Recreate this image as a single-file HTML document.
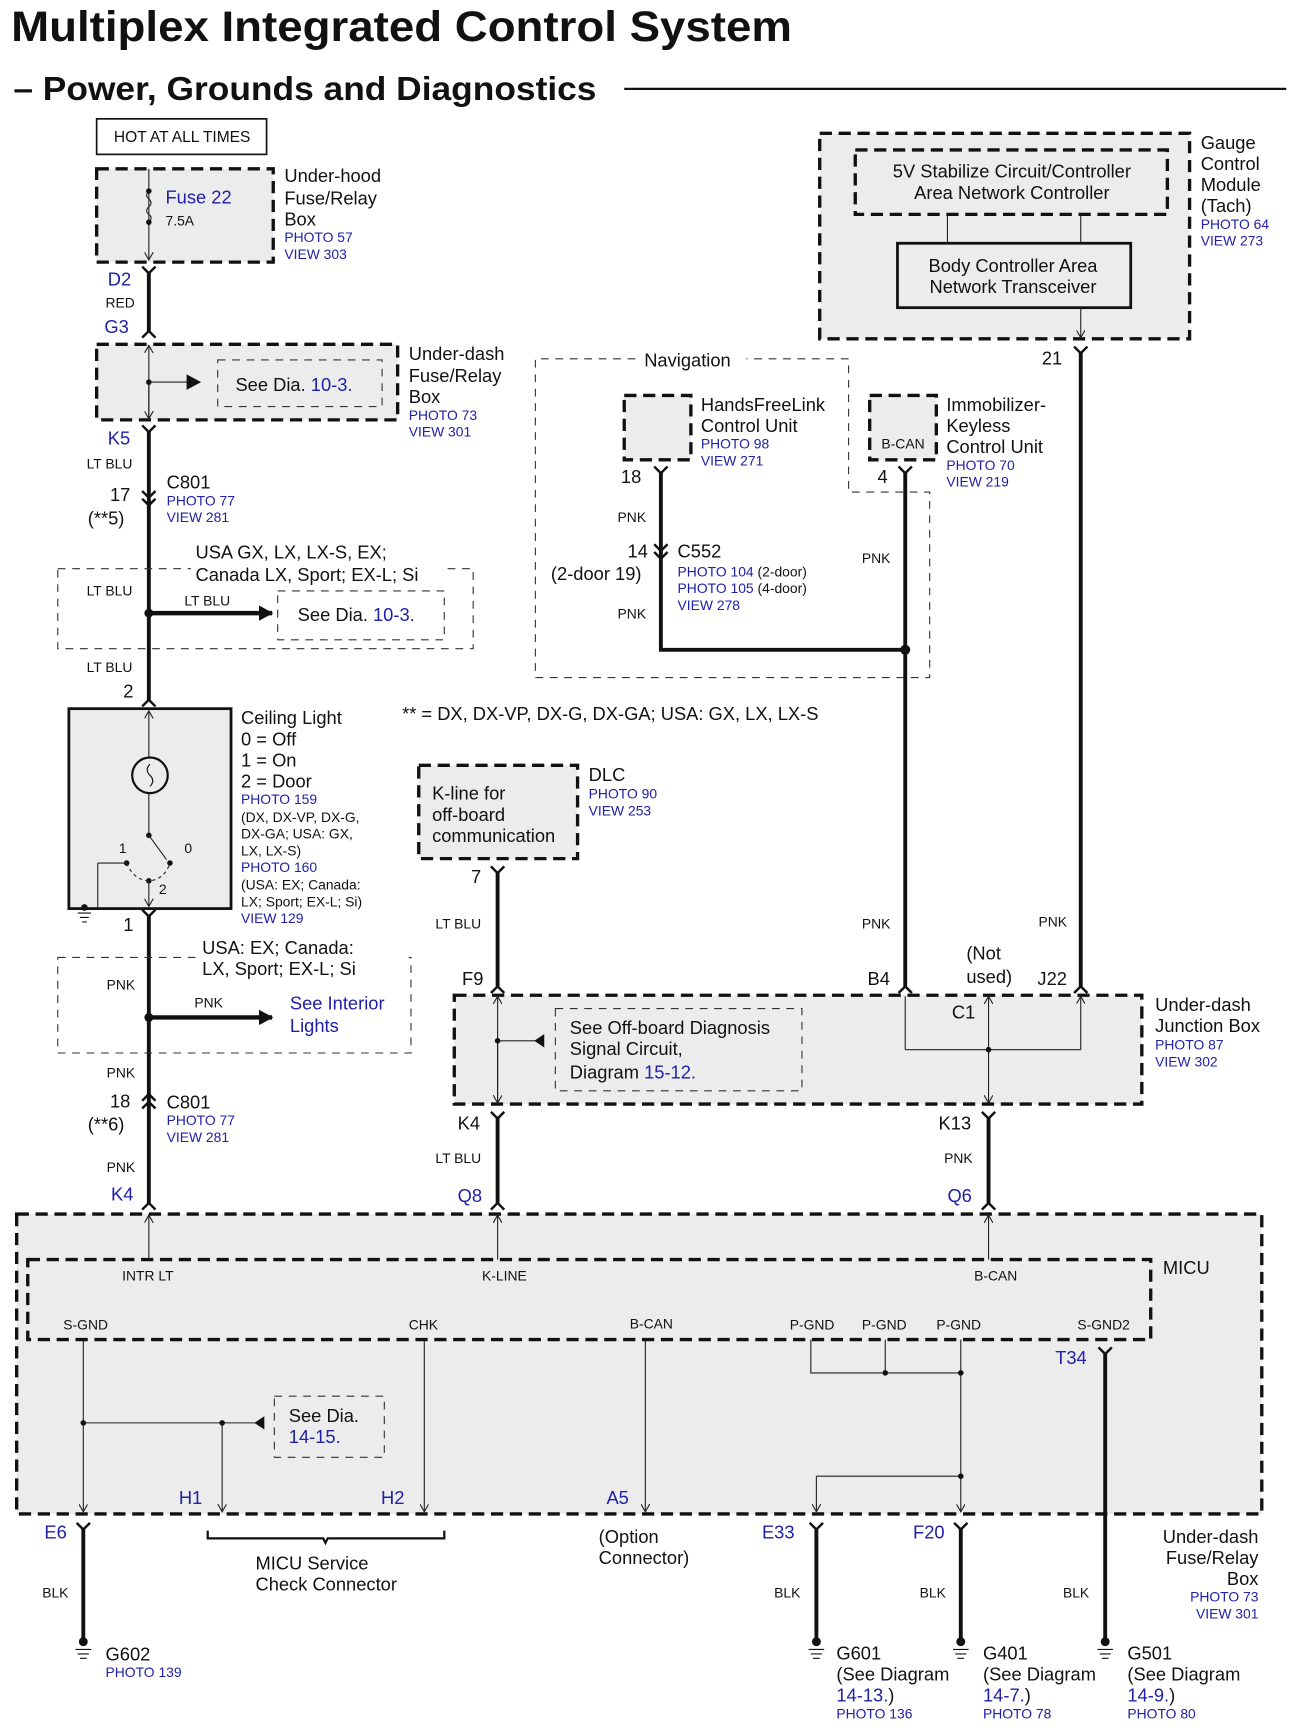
<!DOCTYPE html>
<html><head><meta charset="utf-8"><style>
html,body{margin:0;padding:0;background:#fff;}
svg{display:block;}
text{font-family:"Liberation Sans",sans-serif;fill:#111;}
.b{fill:#2020a8;}
.s12{font-size:12.5px;}
.s14{font-size:14px;}
.s17{font-size:16.5px;}
.thin{stroke:#222;stroke-width:1;fill:none;}
.wire{stroke:#111;stroke-width:3.5;fill:none;}
.dT{stroke:#111;stroke-width:3;stroke-dasharray:11 6;fill:#ececec;}
.dt{stroke:#333;stroke-width:1;stroke-dasharray:7 6;fill:none;}
.con{stroke:#111;stroke-width:2.2;fill:none;}
</style></head><body>
<svg width="1294" height="1735" viewBox="0 0 1165 1562" preserveAspectRatio="none" xmlns="http://www.w3.org/2000/svg">
<defs>
<marker id="ah" markerWidth="8" markerHeight="8" refX="7" refY="4" orient="auto" markerUnits="userSpaceOnUse"><path d="M0,0 L7,4 L0,8" fill="none" stroke="#222" stroke-width="1"/></marker>
<marker id="ab" markerWidth="14" markerHeight="14" refX="12" refY="7" orient="auto" markerUnits="userSpaceOnUse"><path d="M0,0 L13,7 L0,14 Z" fill="#111"/></marker>
</defs>
<text x="10" y="37" font-size="38" font-weight="bold" textLength="703" lengthAdjust="spacingAndGlyphs">Multiplex Integrated Control System</text>
<text x="12" y="90" font-size="30" font-weight="bold" textLength="525" lengthAdjust="spacingAndGlyphs">– Power, Grounds and Diagnostics</text>
<line x1="562" y1="80" x2="1158" y2="80" stroke="#111" stroke-width="2"/>

<rect x="87" y="107" width="153" height="32" fill="#fff" stroke="#111" stroke-width="1.5"/>
<text x="164" y="128" class="s14" text-anchor="middle">HOT AT ALL TIMES</text>

<rect x="87" y="152" width="159" height="84" class="dT"/>
<line x1="134" y1="152" x2="134" y2="234" class="thin" marker-end="url(#ah)"/>
<path d="M134,172 q-4,4 0,7 q4,4 0,7 q-4,4 0,7 q4,3 0,7" fill="none" stroke="#222" stroke-width="1" />
<circle cx="134" cy="172" r="2.5" fill="#111"/><circle cx="134" cy="200" r="2.5" fill="#111"/>
<text x="149" y="183" class="s17 b">Fuse 22</text>
<text x="149" y="203" class="s12">7.5A</text>
<text x="256" y="164" class="s17">Under-hood</text>
<text x="256" y="184" class="s17">Fuse/Relay</text>
<text x="256" y="203" class="s17">Box</text>
<text x="256" y="218" class="s12 b">PHOTO 57</text>
<text x="256" y="233" class="s12 b">VIEW 303</text>

<path d="M128,240 L134,246 L140,240" class="con"/>
<line x1="134" y1="245" x2="134" y2="298" class="wire"/>
<path d="M128,304 L134,298 L140,304" class="con"/>
<text x="97" y="257" class="s17 b">D2</text>
<text x="95" y="277" class="s12">RED</text>
<text x="94" y="300" class="s17 b">G3</text>

<rect x="87" y="310" width="271" height="68" class="dT"/>
<line x1="134" y1="378" x2="134" y2="311" class="thin" marker-end="url(#ah)"/>
<line x1="134" y1="344" x2="134" y2="377" class="thin" marker-end="url(#ah)"/>
<circle cx="134" cy="344" r="2.5" fill="#111"/>
<line x1="134" y1="344" x2="180" y2="344" class="thin" marker-end="url(#ab)" stroke-width="1.2"/>
<rect x="196" y="324" width="148" height="42" class="dt" stroke-dasharray="16 8"/>
<text x="212" y="352" class="s17">See Dia. <tspan class="b">10-3.</tspan></text>
<text x="368" y="324" class="s17">Under-dash</text>
<text x="368" y="344" class="s17">Fuse/Relay</text>
<text x="368" y="363" class="s17">Box</text>
<text x="368" y="378" class="s12 b">PHOTO 73</text>
<text x="368" y="393" class="s12 b">VIEW 301</text>

<path d="M128,383 L134,389 L140,383" class="con"/>
<line x1="134" y1="388" x2="134" y2="630" class="wire"/>
<text x="97" y="400" class="s17 b">K5</text>
<text x="78" y="422" class="s12">LT BLU</text>
<path d="M128,442 L134,448 L140,442 M128,449 L134,455 L140,449" class="con"/>
<text x="99" y="451" class="s17">17</text>
<text x="79" y="472" class="s17">(**5)</text>
<text x="150" y="440" class="s17">C801</text>
<text x="150" y="455" class="s12 b">PHOTO 77</text>
<text x="150" y="470" class="s12 b">VIEW 281</text>

<rect x="52" y="512" width="374" height="72" class="dt" stroke-dasharray="6 6"/>
<rect x="172" y="490" width="230" height="40" fill="#fff"/>
<text x="176" y="503" class="s17">USA GX, LX, LX-S, EX;</text>
<text x="176" y="523" class="s17">Canada LX, Sport; EX-L; Si</text>
<text x="78" y="536" class="s12">LT BLU</text>
<circle cx="134" cy="552" r="4" fill="#111"/>
<line x1="134" y1="552" x2="245" y2="552" stroke="#111" stroke-width="4" marker-end="url(#ab)"/>
<text x="166" y="545" class="s12">LT BLU</text>
<rect x="250" y="532" width="150" height="44" class="dt" stroke-dasharray="14 8"/>
<text x="268" y="559" class="s17">See Dia. <tspan class="b">10-3.</tspan></text>
<text x="78" y="605" class="s12">LT BLU</text>
<text x="111" y="628" class="s17">2</text>
<path d="M128,636 L134,630 L140,636" class="con"/>

<rect x="62" y="638" width="146" height="180" fill="#ececec" stroke="#111" stroke-width="2.5"/>
<line x1="134" y1="682" x2="134" y2="640" class="thin" marker-end="url(#ah)"/>
<line x1="134" y1="714" x2="134" y2="752" class="thin"/>
<circle cx="135" cy="698" r="16" fill="none" stroke="#111" stroke-width="2"/>
<path d="M135,688 q-5,5 0,10 q5,5 0,10" fill="none" stroke="#111" stroke-width="1"/>
<circle cx="134" cy="752" r="2.5" fill="#111"/>
<line x1="134" y1="752" x2="150" y2="774" class="thin"/>
<circle cx="114" cy="777" r="2.5" fill="#111"/><circle cx="153" cy="777" r="2.5" fill="#111"/>
<circle cx="134" cy="793" r="2.5" fill="#111"/>
<path d="M114,777 Q120,792 134,793 Q148,792 153,777" fill="none" stroke="#222" stroke-width="1" stroke-dasharray="3 3"/>
<line x1="134" y1="793" x2="134" y2="816" class="thin" marker-end="url(#ah)"/>
<line x1="114" y1="777" x2="88" y2="777" class="thin"/><line x1="88" y1="777" x2="88" y2="818" class="thin"/>
<text x="107" y="768" class="s12">1</text><text x="166" y="768" class="s12">0</text><text x="143" y="805" class="s12">2</text>
<circle cx="76" cy="817" r="3" fill="#111"/>
<path d="M70,822 h12 M72,826 h8 M74,830 h4" stroke="#111" stroke-width="1"/>
<text x="217" y="652" class="s17">Ceiling Light</text>
<text x="217" y="671" class="s17">0 = Off</text>
<text x="217" y="690" class="s17">1 = On</text>
<text x="217" y="709" class="s17">2 = Door</text>
<text x="217" y="724" class="s12 b">PHOTO 159</text>
<text x="217" y="740" class="s12">(DX, DX-VP, DX-G,</text>
<text x="217" y="755" class="s12">DX-GA; USA: GX,</text>
<text x="217" y="770" class="s12">LX, LX-S)</text>
<text x="217" y="785" class="s12 b">PHOTO 160</text>
<text x="217" y="801" class="s12">(USA: EX; Canada:</text>
<text x="217" y="816" class="s12">LX; Sport; EX-L; Si)</text>
<text x="217" y="831" class="s12 b">VIEW 129</text>
<path d="M128,819 L134,825 L140,819" class="con"/>
<line x1="134" y1="824" x2="134" y2="1083" class="wire"/>
<text x="111" y="838" class="s17">1</text>

<rect x="52" y="862" width="318" height="86" class="dt" stroke-dasharray="6 6"/>
<rect x="178" y="846" width="190" height="38" fill="#fff"/>
<text x="182" y="859" class="s17">USA: EX; Canada:</text>
<text x="182" y="878" class="s17">LX, Sport; EX-L; Si</text>
<text x="96" y="891" class="s12">PNK</text>
<circle cx="134" cy="916" r="4" fill="#111"/>
<line x1="134" y1="916" x2="245" y2="916" stroke="#111" stroke-width="4" marker-end="url(#ab)"/>
<text x="175" y="907" class="s12">PNK</text>
<text x="261" y="909" class="s17 b">See Interior</text>
<text x="261" y="929" class="s17 b">Lights</text>
<text x="96" y="970" class="s12">PNK</text>
<path d="M128,991 L134,985 L140,991 M128,998 L134,992 L140,998" class="con"/>
<text x="99" y="997" class="s17">18</text>
<text x="79" y="1018" class="s17">(**6)</text>
<text x="150" y="998" class="s17">C801</text>
<text x="150" y="1013" class="s12 b">PHOTO 77</text>
<text x="150" y="1028" class="s12 b">VIEW 281</text>
<text x="96" y="1055" class="s12">PNK</text>
<text x="100" y="1081" class="s17 b">K4</text>
<path d="M128,1089 L134,1083 L140,1089" class="con"/>

<rect x="738" y="120" width="333" height="185" class="dT"/>
<rect x="770" y="135" width="281" height="58" class="dT" fill="none"/>
<text x="911" y="160" class="s17" text-anchor="middle">5V Stabilize Circuit/Controller</text>
<text x="911" y="179" class="s17" text-anchor="middle">Area Network Controller</text>
<line x1="853" y1="193" x2="853" y2="219" class="thin"/>
<line x1="973" y1="193" x2="973" y2="219" class="thin"/>
<rect x="808" y="219" width="210" height="58" fill="#ececec" stroke="#111" stroke-width="2.5"/>
<text x="912" y="245" class="s17" text-anchor="middle">Body Controller Area</text>
<text x="912" y="264" class="s17" text-anchor="middle">Network Transceiver</text>
<line x1="973" y1="277" x2="973" y2="304" class="thin" marker-end="url(#ah)"/>
<text x="1081" y="134" class="s17">Gauge</text>
<text x="1081" y="153" class="s17">Control</text>
<text x="1081" y="172" class="s17">Module</text>
<text x="1081" y="191" class="s17">(Tach)</text>
<text x="1081" y="206" class="s12 b">PHOTO 64</text>
<text x="1081" y="221" class="s12 b">VIEW 273</text>
<text x="938" y="328" class="s17">21</text>
<path d="M967,312 L973,318 L979,312" class="con"/>
<line x1="973" y1="317" x2="973" y2="888" class="wire"/>
<text x="935" y="834" class="s12">PNK</text>
<text x="934" y="887" class="s17">J22</text>
<path d="M967,894 L973,888 L979,894" class="con"/>

<path d="M572,323 H482 V610 H837 V443 H764 V323 H672" class="dt" stroke-dasharray="6 6"/>
<text x="580" y="330" class="s17">Navigation</text>
<rect x="562" y="356" width="60" height="58" class="dT"/>
<text x="631" y="370" class="s17">HandsFreeLink</text>
<text x="631" y="389" class="s17">Control Unit</text>
<text x="631" y="404" class="s12 b">PHOTO 98</text>
<text x="631" y="419" class="s12 b">VIEW 271</text>
<text x="559" y="435" class="s17">18</text>
<path d="M589,420 L595,426 L601,420" class="con"/>
<path d="M595,425 V585 H815" class="wire"/>
<text x="556" y="470" class="s12">PNK</text>
<path d="M589,490 L595,496 L601,490 M589,497 L595,503 L601,497" class="con"/>
<text x="565" y="502" class="s17">14</text>
<text x="496" y="522" class="s17">(2-door 19)</text>
<text x="610" y="502" class="s17">C552</text>
<text x="610" y="519" class="s12"><tspan class="b">PHOTO 104</tspan> (2-door)</text>
<text x="610" y="534" class="s12"><tspan class="b">PHOTO 105</tspan> (4-door)</text>
<text x="610" y="549" class="s12 b">VIEW 278</text>
<text x="556" y="557" class="s12">PNK</text>
<rect x="783" y="356" width="60" height="58" class="dT"/>
<text x="813" y="404" class="s12" text-anchor="middle">B-CAN</text>
<text x="852" y="370" class="s17">Immobilizer-</text>
<text x="852" y="389" class="s17">Keyless</text>
<text x="852" y="408" class="s17">Control Unit</text>
<text x="852" y="423" class="s12 b">PHOTO 70</text>
<text x="852" y="438" class="s12 b">VIEW 219</text>
<text x="790" y="435" class="s17">4</text>
<path d="M809,420 L815,426 L821,420" class="con"/>
<line x1="815" y1="425" x2="815" y2="888" class="wire"/>
<circle cx="815" cy="585" r="4.5" fill="#111"/>
<text x="776" y="507" class="s12">PNK</text>
<text x="776" y="836" class="s12">PNK</text>
<text x="781" y="887" class="s17">B4</text>
<path d="M809,894 L815,888 L821,894" class="con"/>

<text x="362" y="648" class="s17">** = DX, DX-VP, DX-G, DX-GA; USA: GX, LX, LX-S</text>

<rect x="377" y="689" width="143" height="84" class="dT"/>
<text x="389" y="720" class="s17">K-line for</text>
<text x="389" y="739" class="s17">off-board</text>
<text x="389" y="758" class="s17">communication</text>
<text x="530" y="703" class="s17">DLC</text>
<text x="530" y="719" class="s12 b">PHOTO 90</text>
<text x="530" y="734" class="s12 b">VIEW 253</text>
<text x="424" y="795" class="s17">7</text>
<path d="M442,780 L448,786 L454,780" class="con"/>
<line x1="448" y1="785" x2="448" y2="888" class="wire"/>
<text x="392" y="836" class="s12">LT BLU</text>
<text x="416" y="887" class="s17">F9</text>
<path d="M442,894 L448,888 L454,894" class="con"/>

<rect x="409" y="896" width="619" height="98" class="dT"/>
<line x1="448" y1="994" x2="448" y2="897" class="thin" marker-end="url(#ah)"/>
<line x1="448" y1="937" x2="448" y2="993" class="thin" marker-end="url(#ah)"/>
<circle cx="448" cy="937" r="2.5" fill="#111"/>
<line x1="448" y1="937" x2="482" y2="937" class="thin"/>
<path d="M490,931 L481,937 L490,943 Z" fill="#111"/>
<rect x="500" y="908" width="222" height="74" class="dt" stroke-dasharray="16 8"/>
<text x="513" y="931" class="s17">See Off-board Diagnosis</text>
<text x="513" y="950" class="s17">Signal Circuit,</text>
<text x="513" y="971" class="s17">Diagram <tspan class="b">15-12.</tspan></text>
<path d="M815,945 V897 M973,945 V897" class="thin" marker-end="url(#ah)"/>
<line x1="815" y1="945" x2="973" y2="945" class="thin"/>
<line x1="890" y1="945" x2="890" y2="897" class="thin" marker-end="url(#ah)"/>
<line x1="890" y1="945" x2="890" y2="993" class="thin" marker-end="url(#ah)"/>
<circle cx="890" cy="945" r="2.5" fill="#111"/>
<text x="857" y="917" class="s17">C1</text>
<text x="870" y="864" class="s17">(Not</text>
<text x="870" y="885" class="s17">used)</text>
<text x="1040" y="910" class="s17">Under-dash</text>
<text x="1040" y="929" class="s17">Junction Box</text>
<text x="1040" y="945" class="s12 b">PHOTO 87</text>
<text x="1040" y="960" class="s12 b">VIEW 302</text>
<text x="412" y="1017" class="s17">K4</text>
<path d="M442,1001 L448,1007 L454,1001" class="con"/>
<line x1="448" y1="1006" x2="448" y2="1083" class="wire"/>
<text x="392" y="1047" class="s12">LT BLU</text>
<text x="412" y="1082" class="s17 b">Q8</text>
<path d="M442,1089 L448,1083 L454,1089" class="con"/>
<text x="845" y="1017" class="s17">K13</text>
<path d="M884,1001 L890,1007 L896,1001" class="con"/>
<line x1="890" y1="1006" x2="890" y2="1083" class="wire"/>
<text x="850" y="1047" class="s12">PNK</text>
<text x="853" y="1082" class="s17 b">Q6</text>
<path d="M884,1089 L890,1083 L896,1089" class="con"/>

<rect x="15" y="1093" width="1121" height="270" class="dT"/>
<rect x="25" y="1134" width="1011" height="72" class="dT" fill="none"/>
<text x="1047" y="1147" class="s17">MICU</text>
<line x1="134" y1="1134" x2="134" y2="1094" class="thin" marker-end="url(#ah)"/>
<line x1="448" y1="1134" x2="448" y2="1094" class="thin" marker-end="url(#ah)"/>
<line x1="890" y1="1134" x2="890" y2="1094" class="thin" marker-end="url(#ah)"/>
<text x="110" y="1153" class="s12">INTR LT</text>
<text x="434" y="1153" class="s12">K-LINE</text>
<text x="877" y="1153" class="s12">B-CAN</text>
<text x="57" y="1197" class="s12">S-GND</text>
<text x="368" y="1197" class="s12">CHK</text>
<text x="567" y="1196" class="s12">B-CAN</text>
<text x="711" y="1197" class="s12">P-GND</text>
<text x="776" y="1197" class="s12">P-GND</text>
<text x="843" y="1197" class="s12">P-GND</text>
<text x="970" y="1197" class="s12">S-GND2</text>
<line x1="75" y1="1206" x2="75" y2="1361" class="thin" marker-end="url(#ah)"/>
<line x1="200" y1="1281" x2="200" y2="1361" class="thin" marker-end="url(#ah)"/>
<line x1="382" y1="1206" x2="382" y2="1361" class="thin" marker-end="url(#ah)"/>
<line x1="581" y1="1206" x2="581" y2="1361" class="thin" marker-end="url(#ah)"/>
<path d="M730,1206 V1236 H865 M797,1206 V1236" class="thin"/>
<line x1="865" y1="1206" x2="865" y2="1361" class="thin" marker-end="url(#ah)"/>
<circle cx="797" cy="1236" r="2.5" fill="#111"/><circle cx="865" cy="1236" r="2.5" fill="#111"/>
<path d="M865,1329 H735" class="thin"/>
<line x1="735" y1="1329" x2="735" y2="1361" class="thin" marker-end="url(#ah)"/>
<circle cx="865" cy="1329" r="2.5" fill="#111"/>
<line x1="75" y1="1281" x2="230" y2="1281" class="thin"/>
<path d="M238,1275 L229,1281 L238,1287 Z" fill="#111"/>
<circle cx="75" cy="1281" r="2.5" fill="#111"/><circle cx="200" cy="1281" r="2.5" fill="#111"/>
<rect x="247" y="1257" width="99" height="55" class="dt" stroke-dasharray="14 8"/>
<text x="260" y="1280" class="s17">See Dia.</text>
<text x="260" y="1299" class="s17 b">14-15.</text>
<text x="161" y="1354" class="s17 b">H1</text>
<text x="343" y="1354" class="s17 b">H2</text>
<text x="546" y="1354" class="s17 b">A5</text>
<text x="950" y="1228" class="s17 b">T34</text>
<path d="M989,1213 L995,1219 L1001,1213" class="con"/>
<line x1="995" y1="1218" x2="995" y2="1476" class="wire"/>

<text x="40" y="1385" class="s17 b">E6</text>
<path d="M69,1371 L75,1377 L81,1371" class="con"/>
<line x1="75" y1="1376" x2="75" y2="1476" class="wire"/>
<text x="38" y="1438" class="s12">BLK</text>
<path d="M187,1378 V1385 H291 L293,1389 L295,1385 H400 V1378" fill="none" stroke="#111" stroke-width="2"/>
<text x="230" y="1413" class="s17">MICU Service</text>
<text x="230" y="1432" class="s17">Check Connector</text>
<text x="539" y="1389" class="s17">(Option</text>
<text x="539" y="1408" class="s17">Connector)</text>
<text x="686" y="1385" class="s17 b">E33</text>
<path d="M729,1371 L735,1377 L741,1371" class="con"/>
<line x1="735" y1="1376" x2="735" y2="1476" class="wire"/>
<text x="697" y="1438" class="s12">BLK</text>
<text x="822" y="1385" class="s17 b">F20</text>
<path d="M859,1371 L865,1377 L871,1371" class="con"/>
<line x1="865" y1="1376" x2="865" y2="1476" class="wire"/>
<text x="828" y="1438" class="s12">BLK</text>
<text x="957" y="1438" class="s12">BLK</text>
<text x="1133" y="1389" class="s17" text-anchor="end">Under-dash</text>
<text x="1133" y="1408" class="s17" text-anchor="end">Fuse/Relay</text>
<text x="1133" y="1427" class="s17" text-anchor="end">Box</text>
<text x="1133" y="1442" class="s12 b" text-anchor="end">PHOTO 73</text>
<text x="1133" y="1457" class="s12 b" text-anchor="end">VIEW 301</text>

<g stroke="#111" stroke-width="1">
<circle cx="75" cy="1478" r="3.5" fill="#111"/><path d="M68,1485 h14 M70,1489 h10 M72,1493 h6"/>
<circle cx="735" cy="1478" r="3.5" fill="#111"/><path d="M728,1485 h14 M730,1489 h10 M732,1493 h6"/>
<circle cx="865" cy="1478" r="3.5" fill="#111"/><path d="M858,1485 h14 M860,1489 h10 M862,1493 h6"/>
<circle cx="995" cy="1478" r="3.5" fill="#111"/><path d="M988,1485 h14 M990,1489 h10 M992,1493 h6"/>
</g>
<text x="95" y="1495" class="s17">G602</text>
<text x="95" y="1510" class="s12 b">PHOTO 139</text>
<text x="753" y="1494" class="s17">G601</text>
<text x="753" y="1513" class="s17">(See Diagram</text>
<text x="753" y="1532" class="s17"><tspan class="b">14-13.</tspan>)</text>
<text x="753" y="1547" class="s12 b">PHOTO 136</text>
<text x="885" y="1494" class="s17">G401</text>
<text x="885" y="1513" class="s17">(See Diagram</text>
<text x="885" y="1532" class="s17"><tspan class="b">14-7.</tspan>)</text>
<text x="885" y="1547" class="s12 b">PHOTO 78</text>
<text x="1015" y="1494" class="s17">G501</text>
<text x="1015" y="1513" class="s17">(See Diagram</text>
<text x="1015" y="1532" class="s17"><tspan class="b">14-9.</tspan>)</text>
<text x="1015" y="1547" class="s12 b">PHOTO 80</text>
</svg>
</body></html>
